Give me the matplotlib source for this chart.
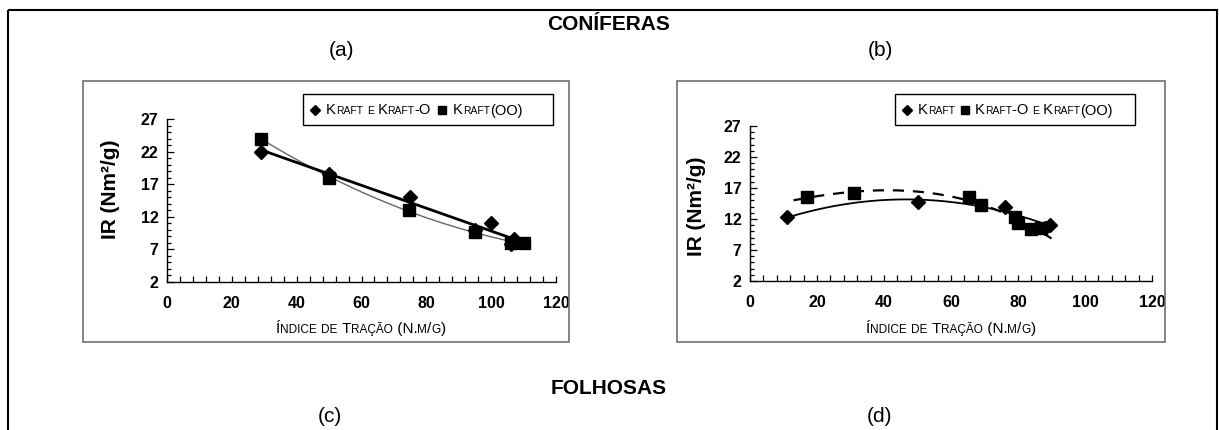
import numpy as np
import matplotlib
matplotlib.use("Agg")
import matplotlib.pyplot as plt
from matplotlib import font_manager
from matplotlib.patches import Rectangle
from matplotlib.ticker import MultipleLocator

W, H = 1219, 430

# (a) coniferas - Kraft e Kraft-O (losangos) e Kraft(OO) (quadrados)
a_kraft_x = [29, 50, 75, 95, 100, 106, 107]
a_kraft_y = [22.0, 18.5, 15.0, 10.0, 11.0, 7.8, 8.6]
a_oo_x = [29, 50, 74.5, 95, 106, 110]
a_oo_y = [24.0, 18.0, 13.0, 9.6, 8.0, 8.0]

# (b) coniferas - Kraft (losangos) e Kraft-O / Kraft(OO) (quadrados)
b_kraft_x = [11, 50, 76, 88, 89.5]
b_kraft_y = [12.3, 14.7, 14.0, 10.6, 11.0]
b_oo_x = [17, 31, 65.5, 69, 79, 80, 84, 87]
b_oo_y = [15.5, 16.2, 15.5, 14.2, 12.3, 11.3, 10.4, 10.5]

X_TICKS = [0, 20, 40, 60, 80, 100, 120]
Y_TICKS = [2, 7, 12, 17, 22, 27]

names = {f.name for f in font_manager.fontManager.ttflist}
FONT = "Liberation Sans" if "Liberation Sans" in names else "DejaVu Sans"
NARROW = "Liberation Sans Narrow" if "Liberation Sans Narrow" in names else FONT
plt.rcParams["font.family"] = FONT

fig = plt.figure(figsize=(W / 100, H / 100), dpi=100)
fig.patch.set_facecolor("white")


def px_axes(x0, y0, x1, y1):
    # axes box given in pixels (top-left origin)
    return fig.add_axes([x0 / W, 1 - y1 / H, (x1 - x0) / W, (y1 - y0) / H])


def style_axes(ax, ylab_x, ylab_y):
    for s in ("top", "right"):
        ax.spines[s].set_visible(False)
    for s in ("left", "bottom"):
        ax.spines[s].set_linewidth(1.0)
        ax.spines[s].set_color("black")
    ax.set_xlim(0, 120)
    ax.set_ylim(2, 27)
    ax.set_xticks(X_TICKS)
    ax.set_yticks(Y_TICKS)
    ax.xaxis.set_minor_locator(MultipleLocator(4))
    ax.yaxis.set_minor_locator(MultipleLocator(1))
    ax.tick_params(which="both", direction="in", color="black", width=0.9)
    ax.tick_params(axis="x", which="both", length=4, pad=10)
    ax.tick_params(axis="y", which="major", length=5, pad=6)
    ax.tick_params(axis="y", which="minor", length=3)
    for lab in ax.get_xticklabels() + ax.get_yticklabels():
        lab.set_fontfamily(NARROW)
        lab.set_fontsize(11.5)
        lab.set_fontweight("bold")
    ax.set_ylabel("IR (Nm²/g)", fontsize=15, fontweight="bold")
    ax.yaxis.set_label_coords(ylab_x, ylab_y)
    ax.patch.set_alpha(0)


def trend(ax, xs, ys, deg, x0, x1, **kw):
    coef = np.polyfit(xs, ys, deg)
    xx = np.linspace(x0, x1, 200)
    ax.plot(xx, np.polyval(coef, xx), **kw)


# panel (a)
ax_a = px_axes(167, 119, 556, 282)
style_axes(ax_a, -0.12, 0.57)
trend(ax_a, a_oo_x, a_oo_y, 2, min(a_oo_x), max(a_oo_x), color="#666666", lw=1.0, zorder=2)
trend(ax_a, a_kraft_x, a_kraft_y, 1, min(a_kraft_x), 109, color="black", lw=2.0, zorder=2)
ax_a.plot(a_oo_x, a_oo_y, "s", ms=9, color="black", zorder=3, clip_on=False)
ax_a.plot(a_kraft_x, a_kraft_y, "D", ms=7.5, color="black", zorder=4, clip_on=False)

# panel (b)
ax_b = px_axes(750, 126, 1152, 281)
style_axes(ax_b, -0.11, 0.48)
trend(ax_b, b_kraft_x, b_kraft_y, 2, min(b_kraft_x), 90, color="black", lw=1.3, zorder=2)
trend(ax_b, b_oo_x, b_oo_y, 3, 13, 90, color="black", lw=1.6, ls=(0, (5, 4)), zorder=2)
ax_b.plot(b_oo_x, b_oo_y, "s", ms=9, color="black", zorder=3, clip_on=False)
ax_b.plot(b_kraft_x, b_kraft_y, "D", ms=7.5, color="black", zorder=4, clip_on=False)

# overlay in pixel units for frames, titles and legends
ov = fig.add_axes([0, 0, 1, 1])
ov.set_xlim(0, W)
ov.set_ylim(H, 0)
ov.axis("off")
renderer = fig.canvas.get_renderer()


def small_caps(x, y, text, big, small, ha="center", **kw):
    runs = []
    for ch in text:
        size = small if ch.islower() else big
        if runs and runs[-1][1] == size:
            runs[-1][0] += ch.upper()
        else:
            runs.append([ch.upper(), size])
    pieces = [ov.text(0, y, s, fontsize=sz, va="baseline", ha="left", **kw) for s, sz in runs]
    widths = [p.get_window_extent(renderer).width for p in pieces]
    xc = x - sum(widths) / 2 if ha == "center" else x
    for p, w in zip(pieces, widths):
        p.set_x(xc)
        xc += w


def legend_box(x0, y0, x1, y1, items):
    ov.add_patch(Rectangle((x0, y0), x1 - x0, y1 - y0, fill=False, ec="black", lw=1.0))
    ym = (y0 + y1) / 2
    for mx, marker, ms, tx, label in items:
        ov.plot([mx], [ym], marker, ms=ms, color="black")
        small_caps(tx, ym + 5, label, 10.5, 7.5, ha="left", fontfamily=NARROW)


# outer frame and panel frames
ov.add_patch(Rectangle((8, 10), 1209, 440, fill=False, ec="black", lw=1.5, clip_on=False))
for x0, x1 in [(83, 569), (677, 1165)]:
    ov.add_patch(Rectangle((x0, 81), x1 - x0, 261, fill=False, ec="#707070", lw=1.2))

legend_box(303, 94, 553, 125, [(315, "D", 5, 326, "Kraft e Kraft-O"),
                               (442, "s", 5.5, 453, "Kraft(OO)")])
legend_box(895, 94, 1135, 125, [(907, "D", 5, 918, "Kraft"),
                                (965, "s", 5.5, 975, "Kraft-O e Kraft(OO)")])

# x axis labels
small_caps(361, 333, "Índice de Tração (N.m/g)", 11, 8.5, fontfamily=NARROW)
small_caps(951, 333, "Índice de Tração (N.m/g)", 11, 8.5, fontfamily=NARROW)

# headings
ov.text(609, 25, "CONÍFERAS", fontsize=15, fontweight="bold", ha="center", va="center")
ov.text(609, 389, "FOLHOSAS", fontsize=15, fontweight="bold", ha="center", va="center")
for x, y, s in [(342, 50, "(a)"), (880, 50, "(b)"), (330, 416, "(c)"), (880, 416, "(d)")]:
    ov.text(x, y, s, fontsize=15, ha="center", va="center")

fig.savefig("out.png", dpi=100, facecolor="white")
